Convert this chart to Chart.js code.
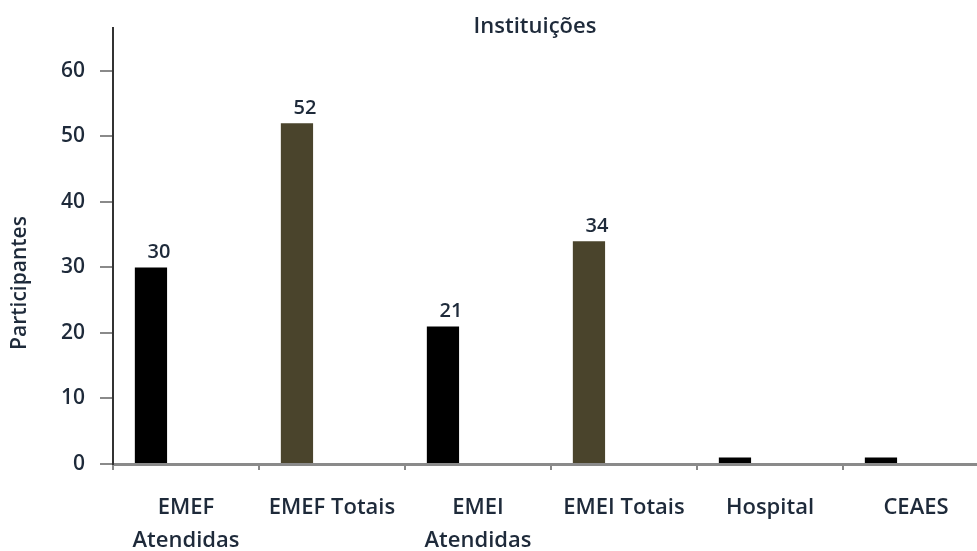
<!DOCTYPE html>
<html>
<head>
<meta charset="utf-8">
<script src="https://cdn.jsdelivr.net/npm/chart.js@4"></script>
<style>
  html, body { margin: 0; padding: 0; background: #fff; overflow: hidden; }
  #wrap { width: 990px; height: 551px; }
</style>
</head>
<body>
<div id="wrap"><canvas id="myChart" width="990" height="551"></canvas></div>
<script>
// ---------------- data ----------------
const categories = [
  ["EMEF", "Atendidas"],
  "EMEF Totais",
  ["EMEI", "Atendidas"],
  "EMEI Totais",
  "Hospital",
  "CEAES",
];
const participantes = [30, 52, 21, 34, 1, 1];
const barColors = ["#000000", "#4a442c", "#000000", "#4a442c", "#000000", "#000000"];
const showValue = [true, true, true, true, false, false];
const yTicks = [0, 10, 20, 30, 40, 50, 60];

const textColor = "#1e2a3a";
const fontFamily = "'Open Sans', sans-serif";

// value labels above the bars, chart title and y title
const barLabels = {
  id: "barLabels",
  afterDatasetsDraw(chart) {
    const ctx = chart.ctx;
    const meta = chart.getDatasetMeta(0);
    ctx.save();
    ctx.font = "600 20px " + fontFamily;
    ctx.fillStyle = textColor;
    ctx.textAlign = "center";
    ctx.textBaseline = "bottom";
    meta.data.forEach((bar, i) => {
      if (!showValue[i]) return;
      ctx.fillText(participantes[i], bar.x + 8, bar.y - 5);
    });
    ctx.restore();
  },
  afterDraw(chart) {
    const ctx = chart.ctx;
    const area = chart.chartArea;
    ctx.save();
    ctx.fillStyle = textColor;
    ctx.textAlign = "center";
    ctx.textBaseline = "middle";
    ctx.font = "600 22px " + fontFamily;
    ctx.fillText("Instituições", (area.left + area.right) / 2 - 16, 27);
    // y axis title, sits a bit lower than the middle of the plot
    ctx.translate(20, area.bottom - 181);
    ctx.rotate(-Math.PI / 2);
    ctx.font = "600 21px " + fontFamily;
    ctx.fillText("Participantes", 0, 0);
    ctx.restore();
  },
};

const config = {
  type: "bar",
  data: {
    labels: categories,
    datasets: [
      {
        label: "Participantes",
        data: participantes,
        backgroundColor: barColors,
        borderWidth: 0,
      },
      {
        label: "",
        data: categories.map(() => null),
        backgroundColor: "transparent",
      },
    ],
  },
  options: {
    responsive: false,
    animation: false,
    categoryPercentage: 0.96,
    barPercentage: 0.46,
    layout: { padding: { top: 20, right: 1, left: 0, bottom: 0 } },
    plugins: {
      legend: { display: false },
      tooltip: { enabled: false },
    },
    scales: {
      x: {
        grid: {
          drawOnChartArea: false,
          tickLength: 6,
          color: "#888",
          lineWidth: 2,
        },
        border: { color: "#8a8a8a", width: 3 },
        ticks: {
          color: textColor,
          font: { family: fontFamily, size: 22, weight: 600, lineHeight: 1.5 },
          padding: 21,
          maxRotation: 0,
          autoSkip: false,
        },
        afterFit(scale) {
          scale.height = 87;
        },
      },
      y: {
        min: 0,
        max: 66.6,
        afterBuildTicks(scale) {
          scale.ticks = yTicks.map((v) => ({ value: v }));
        },
        grid: {
          drawOnChartArea: false,
          tickLength: 13,
          color: "#8a8a8a",
          lineWidth: 2,
        },
        border: { color: "#333", width: 2 },
        ticks: {
          color: textColor,
          font: { family: fontFamily, size: 21, weight: 600 },
          padding: 15,
        },
        afterFit(scale) {
          scale.width = 113;
        },
      },
    },
  },
  plugins: [barLabels],
};

new Chart(document.getElementById("myChart"), config);
</script>
</body>
</html>
